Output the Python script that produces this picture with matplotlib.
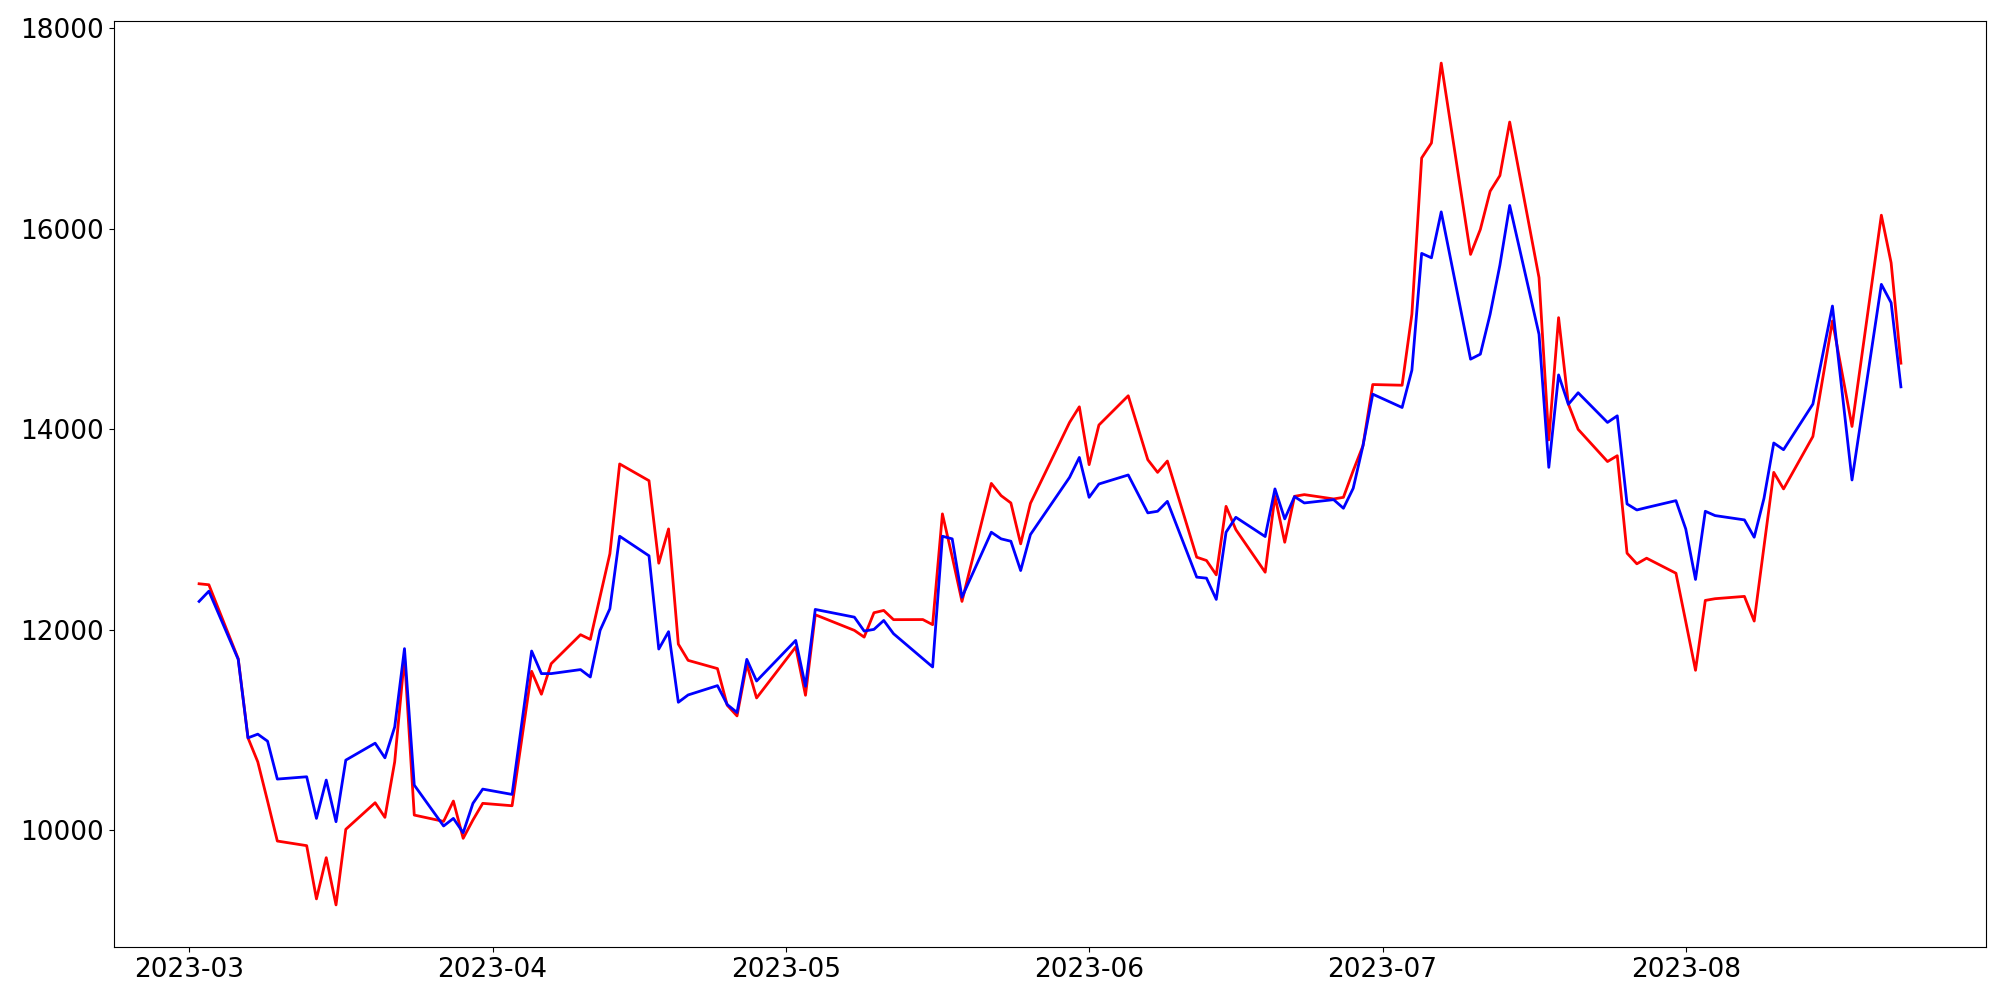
import numpy as np
import pandas as pd
import matplotlib
matplotlib.use("Agg")
import matplotlib.pyplot as plt
import matplotlib.dates as mdates

# trading days
mar = [2, 3, 6, 7, 8, 9, 10, 13, 14, 15, 16, 17, 20, 21, 22, 23, 24, 27, 28, 29, 30, 31]
apr = [3, 5, 6, 7, 10, 11, 12, 13, 14, 17, 18, 19, 20, 21, 24, 25, 26, 27, 28]
may = [2, 3, 4, 8, 9, 10, 11, 12, 15, 16, 17, 18, 19, 22, 23, 24, 25, 26, 30, 31]
jun = [1, 2, 5, 7, 8, 9, 12, 13, 14, 15, 16, 19, 20, 21, 22, 23, 26, 27, 28, 29, 30]
jul = [3, 4, 5, 6, 7, 10, 11, 12, 13, 14, 17, 18, 19, 20, 21, 24, 25, 26, 27, 28, 31]
aug = [1, 2, 3, 4, 7, 8, 9, 10, 11, 14, 15, 16, 17, 18, 21, 22, 23]

dates = []
for m, days in zip(range(3, 9), [mar, apr, may, jun, jul, aug]):
    for d in days:
        dates.append(pd.Timestamp(2023, m, d))

red = [12460, 12450, 11713, 10923, 10684, 10293, 9894, 9848, 9317, 9728, 9257, 10011,
       10276, 10130, 10684, 11729, 10153, 10090, 10293, 9921, 10104, 10270,
       10246, 11587, 11358, 11663, 11952, 11905, 12333, 12759, 13655, 13488, 12665, 13007,
       11858, 11696, 11614, 11248, 11142, 11657, 11321,
       11829, 11348, 12151, 11995, 11928, 12171, 12194, 12102, 12103, 12052, 13157, 12730,
       12284, 13461, 13339, 13266, 12858, 13262, 14069, 14225,
       13648, 14043, 14335, 13697, 13571, 13684, 12725, 12692, 12549, 13232, 13000, 12575,
       13332, 12874, 13332, 13349, 13306, 13322, 13588, 13837, 14447,
       14440, 15148, 16707, 16856, 17653, 15745, 15994, 16375, 16531, 17065, 15512, 13895,
       15114, 14252, 14000, 13679, 13737, 12765, 12659, 12715, 12565,
       12083, 11597, 12294, 12311, 12334, 12088, 12831, 13571, 13406, 13929, 14505, 15081,
       14555, 14029, 16136, 15661, 14660]

blue = [12284, 12386, 11706, 10923, 10960, 10890, 10512, 10535, 10120, 10502, 10087, 10701,
        10870, 10724, 11032, 11813, 10452, 10044, 10120, 9977, 10270, 10412,
        10359, 11789, 11564, 11564, 11604, 11530, 11995, 12211, 12934, 12739, 11809, 11982,
        11278, 11351, 11444, 11255, 11176, 11706, 11490,
        11895, 11437, 12204, 12127, 11988, 12005, 12094, 11962, 11713, 11630, 12934, 12908,
        12326, 12974, 12908, 12884, 12592, 12951, 13521, 13720,
        13322, 13455, 13545, 13167, 13183, 13282, 12526, 12516, 12304, 12974, 13123, 12931,
        13406, 13107, 13329, 13266, 13299, 13213, 13412, 13837, 14351,
        14218, 14590, 15755, 15711, 16169, 14700, 14750, 15148, 15638, 16233, 14948, 13621,
        14543, 14250, 14365, 14069, 14135, 13256, 13196, 13220, 13289,
        13007, 12503, 13183, 13140, 13097, 12924, 13312, 13864, 13797, 14252, 14742, 15230,
        14364, 13495, 15446, 15263, 14424]

fig, ax = plt.subplots(figsize=(20, 10), dpi=100)
ax.plot(dates, red, color="red", linewidth=2)
ax.plot(dates, blue, color="blue", linewidth=2)

ax.xaxis.set_major_locator(mdates.MonthLocator())
ax.xaxis.set_major_formatter(mdates.DateFormatter("%Y-%m"))
ax.tick_params(labelsize=19)

plt.subplots_adjust(left=0.057, right=0.993, top=0.979, bottom=0.053)
plt.savefig("out.png")
